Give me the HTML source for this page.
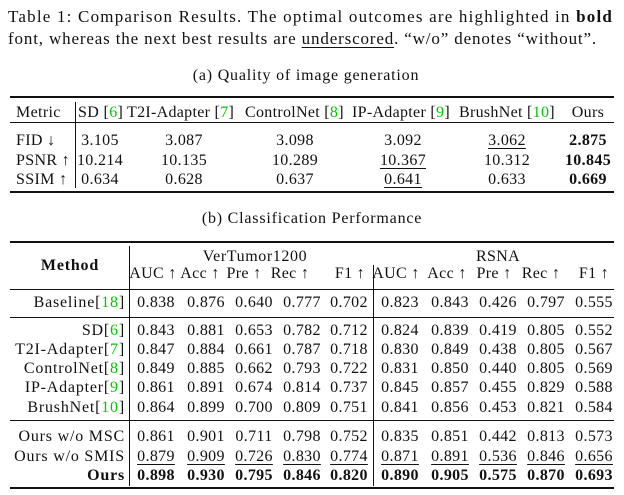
<!DOCTYPE html>
<html><head><meta charset="utf-8"><style>
body{margin:0;width:624px;height:495px;background:#fff;position:relative;overflow:hidden;font-family:"Liberation Serif",serif;color:#111;font-size:16px;letter-spacing:0.35px}
.t{position:absolute;white-space:nowrap;line-height:18px;transform:translate(-50%,-50%)}
.r{position:absolute;white-space:nowrap;line-height:18px;transform:translate(-100%,-50%)}
.l{position:absolute;white-space:nowrap;line-height:18px;transform:translate(0,-50%)}
.g{color:#00c800}
.h{position:absolute;background:#111}
.u{text-decoration:underline;text-underline-offset:3px;text-decoration-thickness:1px}
b{font-weight:bold}
.cap{font-size:17px}
</style></head><body>
<div class="l cap" style="left:8px;top:17px;letter-spacing:1.2px">Table 1: Comparison Results. The optimal outcomes are highlighted in <b>bold</b></div>
<div class="l cap" style="left:8px;top:39px;letter-spacing:0.85px">font, whereas the next best results are <span class="u">underscored</span>. “w/o” denotes “without”.</div>
<div class="t" style="left:306px;top:76px;letter-spacing:0.8px">(a) Quality of image generation</div>

<div class="h" style="left:10px;top:96px;width:604px;height:2px"></div>
<div class="h" style="left:10px;top:122px;width:604px;height:1px"></div>
<div class="h" style="left:10px;top:191px;width:604px;height:2px"></div>
<div class="h" style="left:75px;top:102px;width:1px;height:86px"></div>
<div class="l" style="left:16px;top:113px">Metric</div>
<div class="l" style="left:78px;top:113px">SD [<span class="g">6</span>]</div>
<div class="l" style="left:127px;top:113px;letter-spacing:0.3px">T2I-Adapter [<span class="g">7</span>]</div>
<div class="l" style="left:245px;top:113px;letter-spacing:0.3px">ControlNet [<span class="g">8</span>]</div>
<div class="l" style="left:352px;top:113px;letter-spacing:0.3px">IP-Adapter [<span class="g">9</span>]</div>
<div class="l" style="left:459px;top:113px;letter-spacing:0.3px">BrushNet [<span class="g">10</span>]</div>
<div class="t" style="left:588px;top:113px">Ours</div>
<div class="l" style="left:16px;top:141px">FID ↓</div>
<div class="l" style="left:16px;top:161px">PSNR ↑</div>
<div class="l" style="left:16px;top:180px">SSIM ↑</div>
<div class="t" style="left:100px;top:141px">3.105</div><div class="t" style="left:184px;top:141px">3.087</div><div class="t" style="left:295px;top:141px">3.098</div><div class="t" style="left:403px;top:141px">3.092</div><div class="t u" style="left:507px;top:141px">3.062</div><div class="t" style="left:588px;top:141px"><b>2.875</b></div>
<div class="t" style="left:100px;top:161px">10.214</div><div class="t" style="left:184px;top:161px">10.135</div><div class="t" style="left:295px;top:161px">10.289</div><div class="t u" style="left:403px;top:161px">10.367</div><div class="t" style="left:507px;top:161px">10.312</div><div class="t" style="left:588px;top:161px"><b>10.845</b></div>
<div class="t" style="left:100px;top:180px">0.634</div><div class="t" style="left:184px;top:180px">0.628</div><div class="t" style="left:295px;top:180px">0.637</div><div class="t u" style="left:403px;top:180px">0.641</div><div class="t" style="left:507px;top:180px">0.633</div><div class="t" style="left:588px;top:180px"><b>0.669</b></div>

<div class="t" style="left:312px;top:219px;letter-spacing:0.8px">(b) Classification Performance</div>
<div class="h" style="left:10px;top:241px;width:604px;height:2px"></div>
<div class="h" style="left:10px;top:289px;width:604px;height:1px"></div>
<div class="h" style="left:10px;top:317px;width:604px;height:1px"></div>
<div class="h" style="left:10px;top:420px;width:604px;height:1px"></div>
<div class="h" style="left:10px;top:487px;width:604px;height:2px"></div>
<div class="h" style="left:129px;top:246px;width:1px;height:240px"></div>
<div class="h" style="left:373px;top:265px;width:1px;height:221px"></div>
<div class="t" style="left:70px;top:266px;letter-spacing:0.8px"><b>Method</b></div>
<div class="t" style="left:255px;top:257px;letter-spacing:0.6px">VerTumor1200</div>
<div class="t" style="left:498px;top:257px">RSNA</div>
<div class="t" style="left:153px;top:274px">AUC ↑</div><div class="t" style="left:200px;top:274px">Acc ↑</div><div class="t" style="left:244px;top:274px">Pre ↑</div><div class="t" style="left:290px;top:274px">Rec ↑</div><div class="t" style="left:350px;top:274px">F1 ↑</div>
<div class="t" style="left:396px;top:274px">AUC ↑</div><div class="t" style="left:447px;top:274px">Acc ↑</div><div class="t" style="left:494px;top:274px">Pre ↑</div><div class="t" style="left:541px;top:274px">Rec ↑</div><div class="t" style="left:594px;top:274px">F1 ↑</div>

<div id="rows"></div>
<script>
var xs=[156,206,254,302,349,400,450,498,546,594];
var rows=[
["Baseline[<span class='g'>18</span>]",303,"0.838 0.876 0.640 0.777 0.702 0.823 0.843 0.426 0.797 0.555",""],
["SD[<span class='g'>6</span>]",331,"0.843 0.881 0.653 0.782 0.712 0.824 0.839 0.419 0.805 0.552",""],
["T2I-Adapter[<span class='g'>7</span>]",350,"0.847 0.884 0.661 0.787 0.718 0.830 0.849 0.438 0.805 0.567",""],
["ControlNet[<span class='g'>8</span>]",369,"0.849 0.885 0.662 0.793 0.722 0.831 0.850 0.440 0.805 0.569",""],
["IP-Adapter[<span class='g'>9</span>]",388,"0.861 0.891 0.674 0.814 0.737 0.845 0.857 0.455 0.829 0.588",""],
["BrushNet[<span class='g'>10</span>]",408,"0.864 0.899 0.700 0.809 0.751 0.841 0.856 0.453 0.821 0.584",""],
["Ours w/o MSC",437,"0.861 0.901 0.711 0.798 0.752 0.835 0.851 0.442 0.813 0.573",""],
["Ours w/o SMIS",457,"0.879 0.909 0.726 0.830 0.774 0.871 0.891 0.536 0.846 0.656","u"],
["<b>Ours</b>",476,"0.898 0.930 0.795 0.846 0.820 0.890 0.905 0.575 0.870 0.693","b"]];
var h="";
rows.forEach(function(r){
h+='<div class="r" style="left:125px;top:'+r[1]+'px;letter-spacing:0.8px">'+r[0]+'</div>';
r[2].split(" ").forEach(function(v,i){
var c=r[3]=="u"?"t u":"t";var t=r[3]=="b"?"<b>"+v+"</b>":v;
h+='<div class="'+c+'" style="left:'+xs[i]+'px;top:'+r[1]+'px">'+t+'</div>';});
});
document.getElementById("rows").innerHTML=h;
</script>
</body></html>
